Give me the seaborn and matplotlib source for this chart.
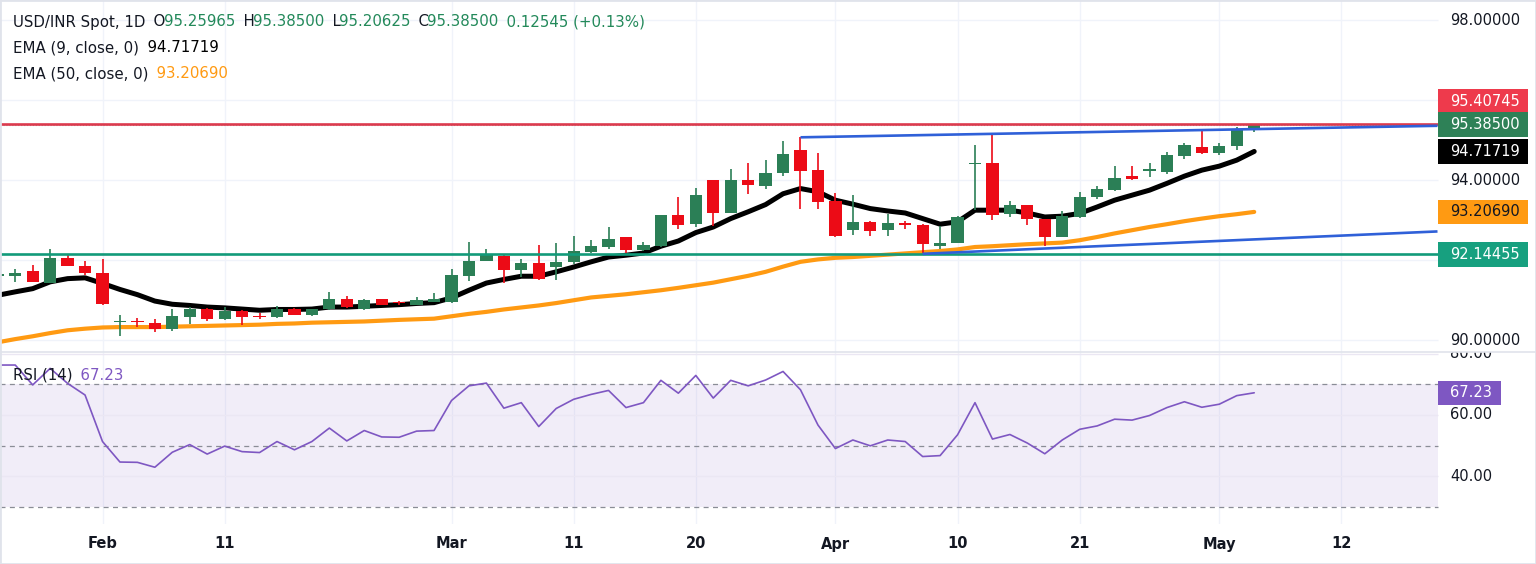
import numpy as np
import pandas as pd
import matplotlib
matplotlib.use('Agg')
import matplotlib.pyplot as plt
import matplotlib.transforms as mtrans
from matplotlib.patches import Rectangle
from matplotlib.lines import Line2D
import seaborn as sns

# ---- data (USD/INR spot, daily) ----
dates = pd.bdate_range('2026-01-23', '2026-05-05')

opens = [91.60, 91.61, 91.72, 91.44, 92.06, 91.86,
         91.68, 90.45, 90.47, 90.42, 90.27, 90.58, 90.77, 90.53, 90.73, 90.59,
         90.57, 90.78, 90.64, 90.77, 91.03, 90.77, 91.03, 90.94, 90.89, 90.96,
         90.96, 91.61, 91.98, 92.11, 91.75, 91.94, 91.83, 91.96, 92.20, 92.33,
         92.57, 92.25, 92.35, 93.14, 92.90, 94.00, 93.19, 94.00, 93.86, 94.18,
         94.75, 94.25,
         93.47, 92.75, 92.96, 92.75, 92.92, 92.89, 92.36, 92.43, 94.40, 94.43,
         93.15, 93.37, 93.02, 92.58, 93.08, 93.58, 93.75, 94.10, 94.24, 94.21,
         94.60, 94.83,
         94.69, 94.85, 95.25965]
highs = [91.68, 91.79, 91.875, 92.29, 92.15, 91.98,
         92.02, 90.63, 90.55, 90.52, 90.79, 90.83, 90.80, 90.82, 90.75, 90.67,
         90.85, 90.80, 90.79, 91.21, 91.11, 91.02, 91.03, 90.98, 91.08, 91.17,
         91.77, 92.46, 92.29, 92.13, 92.02, 92.37, 92.44, 92.60, 92.50, 92.83,
         92.58, 92.46, 93.14, 93.57, 93.81, 94.00, 94.275, 94.43, 94.50, 94.975,
         95.08, 94.67,
         93.67, 93.625, 92.97, 93.15, 92.98, 92.90, 92.85, 93.10, 94.875, 95.125,
         93.47, 93.38, 93.03, 93.22, 93.71, 93.85, 94.35, 94.35, 94.43, 94.71,
         94.94, 95.29,
         94.92, 95.33, 95.385]
lows = [91.57, 91.46, 91.45, 91.43, 91.85, 91.64,
        90.89, 90.10, 90.33, 90.20, 90.22, 90.40, 90.48, 90.50, 90.37, 90.52,
        90.56, 90.62, 90.61, 90.76, 90.80, 90.75, 90.87, 90.88, 90.87, 90.95,
        90.93, 91.48, 91.97, 91.42, 91.58, 91.50, 91.50, 91.90, 92.18, 92.29,
        92.17, 92.23, 92.33, 92.79, 92.83, 92.85, 93.17, 93.65, 93.78, 94.10,
        93.27, 93.27,
        92.58, 92.625, 92.60, 92.60, 92.77, 92.18, 92.27, 92.42, 93.25, 93.00,
        93.07, 92.875, 92.35, 92.57, 93.05, 93.53, 93.74, 94.00, 94.07, 94.15,
        94.52, 94.65,
        94.62, 94.75, 95.20625]
closes = [91.66, 91.69, 91.46, 92.06, 91.86, 91.68,
          90.90, 90.47, 90.45, 90.27, 90.60, 90.77, 90.52, 90.725, 90.58, 90.58,
          90.78, 90.64, 90.77, 91.03, 90.82, 91.00, 90.89, 90.92, 91.00, 91.02,
          91.62, 91.98, 92.12, 91.75, 91.92, 91.52, 91.96, 92.22, 92.36, 92.52,
          92.25, 92.375, 93.12, 92.875, 93.64, 93.19, 94.00, 93.875, 94.18, 94.65,
          94.23, 93.46,
          92.60, 92.96, 92.73, 92.93, 92.89, 92.40, 92.44, 93.08, 94.43, 93.14,
          93.37, 93.02, 92.58, 93.10, 93.58, 93.77, 94.06, 94.02, 94.26, 94.62,
          94.89, 94.69,
          94.86, 95.25, 95.385]

ema9 = [91.125, 91.21, 91.29, 91.46, 91.54, 91.56,
        91.42, 91.27, 91.14, 90.98, 90.90, 90.87, 90.83, 90.81, 90.78, 90.75,
        90.77, 90.77, 90.78, 90.83, 90.83, 90.85, 90.87, 90.89, 90.92, 90.94,
        91.06, 91.25, 91.43, 91.52, 91.60, 91.60, 91.71, 91.83, 91.96, 92.08,
        92.125, 92.18, 92.35, 92.48, 92.69, 92.83, 93.04, 93.21, 93.39, 93.66,
        93.79, 93.71,
        93.50, 93.40, 93.29, 93.23, 93.18, 93.04, 92.90, 92.96, 93.25, 93.25,
        93.25, 93.18, 93.08, 93.10, 93.17, 93.33, 93.50, 93.625, 93.75, 93.92,
        94.10, 94.25,
        94.35, 94.50, 94.71719]
ema50 = [89.95, 90.03, 90.10, 90.18, 90.25, 90.29,
         90.32, 90.33, 90.33, 90.33, 90.34, 90.35, 90.36, 90.37, 90.38, 90.39,
         90.41, 90.42, 90.44, 90.45, 90.46, 90.47, 90.49, 90.51, 90.525, 90.54,
         90.60, 90.66, 90.71, 90.77, 90.82, 90.87, 90.93, 91.00, 91.07, 91.11,
         91.15, 91.20, 91.25, 91.31, 91.375, 91.44, 91.525, 91.61, 91.71, 91.84,
         91.96, 92.02,
         92.06, 92.08, 92.11, 92.14, 92.17, 92.20, 92.23, 92.27, 92.33, 92.35,
         92.375, 92.40, 92.42, 92.44, 92.50, 92.58, 92.67, 92.75, 92.83, 92.90,
         92.975, 93.04,
         93.10, 93.15, 93.2069]
rsi = [76.3, 76.3, 69.8, 75.2, 70.3, 66.5,
       51.3, 44.6, 44.5, 42.9, 47.8, 50.3, 47.2, 49.8, 48.0, 47.7,
       51.3, 48.6, 51.3, 55.7, 51.5, 54.9, 52.8, 52.7, 54.7, 54.9,
       64.7, 69.5, 70.4, 62.2, 64.0, 56.2, 62.1, 65.1, 66.7, 68.0,
       62.4, 64.0, 71.3, 67.1, 72.9, 65.5, 71.3, 69.5, 71.4, 74.2,
       68.2, 56.7,
       49.0, 51.8, 49.9, 51.8, 51.3, 46.4, 46.7, 53.5, 64.0, 52.1,
       53.6, 50.8, 47.3, 51.8, 55.3, 56.4, 58.6, 58.3, 59.8, 62.4,
       64.3, 62.5,
       63.5, 66.3, 67.23]

resistance = 95.40745
support = 92.14455
upper_trend = [('2026-03-30', 95.07), ('2026-05-05', 95.275)]
lower_trend = [('2026-04-08', 92.16), ('2026-05-05', 92.52)]

tick_dates = ['2026-02-02', '2026-02-11', '2026-03-02', '2026-03-11', '2026-03-20',
              '2026-04-01', '2026-04-10', '2026-04-21', '2026-05-01', '2026-05-12']
tick_labels = ['Feb', '11', 'Mar', '11', '20', 'Apr', '10', '21', 'May', '12']
price_ticks = [90, 94, 98]
rsi_ticks = [40, 60, 80]

# ---- layout (pixels of the 1536x564 picture) ----
W, H = 1536, 564
BAR_PX = 17.45
FEB2_PX = 102.5
SCALE_PX = 1437.5
DARK = '#131722'
GREEN = '#2b7f56'
RED = '#ec0b16'
PURPLE = '#7e57c2'

start = dates[0].strftime('%Y-%m-%d')
xs = np.busday_count(start, dates.strftime('%Y-%m-%d').tolist())
tick_pos = np.busday_count(start, tick_dates)
i_feb2 = np.busday_count(start, '2026-02-02')
x_lo = i_feb2 - FEB2_PX / BAR_PX
x_hi = i_feb2 + (W - FEB2_PX) / BAR_PX
x_end = i_feb2 + (SCALE_PX - FEB2_PX) / BAR_PX

sns.set_theme(style='white')
plt.rcParams['font.family'] = ['DejaVu Sans']

fig = plt.figure(figsize=(W / 100, H / 100), dpi=100)
fig.patch.set_facecolor('white')
ax_p = fig.add_axes([0, 1 - 351.5 / H, 1, 351.5 / H])
ax_r = fig.add_axes([0, 1 - 524 / H, 1, 172 / H])

ax_p.set_xlim(x_lo, x_hi)
ax_p.set_ylim(89.72, 98.5)
ax_r.set_xlim(x_lo, x_hi)
ax_r.set_ylim(24.35, 80.56)
for ax in (ax_p, ax_r):
    for s in ax.spines.values():
        s.set_visible(False)
    ax.set_yticks([])
    ax.set_facecolor('none')

# grids
ax_p.hlines([90, 92, 94, 96, 98], x_lo, x_end, color='#f0f3fa', lw=1, zorder=0)
ax_p.vlines(tick_pos, 89.72, 98.5, color='#f0f3fa', lw=1, zorder=0)
ax_r.vlines(tick_pos, 24.35, 80.56, color='#f0f3fa', lw=1, zorder=0)

# candles
o, h, l, c = map(np.asarray, (opens, highs, lows, closes))
cols = np.where(c >= o, GREEN, RED)
ax_p.vlines(xs, l, h, colors=cols, lw=1.2, zorder=3)
body = np.maximum(np.abs(c - o), 0.035)
ax_p.bar(xs, body, bottom=np.minimum(o, c), width=0.7, color=cols, lw=0, zorder=3)

# moving averages
sns.lineplot(x=xs, y=ema50, ax=ax_p, color='#ff9a12', linewidth=3.0, zorder=2, legend=False)
sns.lineplot(x=xs, y=ema9, ax=ax_p, color='black', linewidth=3.6, zorder=2, legend=False)

# drawings
ax_p.hlines(closes[-1], x_lo, x_end, color=GREEN, lw=0.8, ls=':', alpha=0.5, zorder=1)
ax_p.hlines(resistance, x_lo, x_end, color='#dc3a4e', lw=1.9, zorder=4)
ax_p.hlines(support, x_lo, x_end, color='#129a7a', lw=1.9, zorder=4)
for (d0, p0), (d1, p1) in (upper_trend, lower_trend):
    i0, i1 = np.busday_count(start, [d0, d1])
    slope = (p1 - p0) / (i1 - i0)
    ax_p.plot([i0, x_end], [p0, p0 + slope * (x_end - i0)], color='#2f60d8', lw=1.9,
              zorder=4, solid_capstyle='butt')

# RSI pane
ax_r.fill_between([x_lo, x_end], 30, 70, color=PURPLE, alpha=0.1, lw=0, zorder=0)
ax_r.hlines([40, 60, 80], x_lo, x_end, color='#ebe7f3', lw=1, zorder=0)
ax_r.hlines([70, 50, 30], x_lo, x_end, colors='#8a8d96', linestyles=(0, (4, 3.5)), lw=0.9, zorder=1)
sns.lineplot(x=xs, y=rsi, ax=ax_r, color=PURPLE, linewidth=1.2, zorder=3, legend=False)

# date axis
ax_r.set_xticks(tick_pos)
ax_r.set_xticklabels(tick_labels)
ax_r.tick_params(axis='x', length=0, pad=9, labelsize=10.5, labelcolor=DARK)
for lbl in ax_r.get_xticklabels():
    lbl.set_fontweight('bold')
ax_p.set_xticks([])

# price scale
def scale_text(ax, value, text, color=DARK):
    tr = mtrans.blended_transform_factory(ax.transAxes, ax.transData)
    ax.text(1450 / W, value, text, transform=tr, va='center', ha='left', fontsize=10.5,
            color=color, clip_on=True, zorder=5)


def tag(ax, value, text, fc, tc, width_px, dy_px=0):
    y0, y1 = ax.get_ylim()
    ppu = ax.get_position().height * H / (y1 - y0)
    yc = value + dy_px / ppu
    hh = 24.5 / ppu
    tr = mtrans.blended_transform_factory(ax.transAxes, ax.transData)
    ax.add_patch(Rectangle((1438 / W, yc - hh / 2), width_px / W, hh, transform=tr,
                           fc=fc, ec='none', zorder=6, clip_on=False))
    ax.text(1450 / W, yc, text, transform=tr, va='center', ha='left', fontsize=10.5,
            color=tc, zorder=7)


for v in price_ticks:
    scale_text(ax_p, v, f'{v:.5f}')
for v in rsi_ticks:
    scale_text(ax_r, v, f'{v:.2f}')

tag(ax_p, resistance, f'{resistance:.5f}', '#ee3a4c', 'white', 90, dy_px=22.7)
tag(ax_p, closes[-1], f'{closes[-1]:.5f}', '#2e8157', 'white', 90)
tag(ax_p, ema9[-1], f'{ema9[-1]:.5f}', 'black', 'white', 90)
tag(ax_p, ema50[-1], f'{ema50[-1]:.5f}', '#ff9a12', DARK, 90)
tag(ax_p, support, f'{support:.5f}', '#17a07f', 'white', 90)
tag(ax_r, rsi[-1], f'{rsi[-1]:.2f}', PURPLE, 'white', 63)


# legends
def legend_line(x_px, y_px, parts, size=10.8):
    t = fig.text(x_px / W, 1 - y_px / H, parts[0][0], color=parts[0][1], fontsize=size,
                 va='center', ha='left')
    for s, col in parts[1:]:
        t = ax_p.annotate(s, xy=(1, 0), xycoords=t, xytext=(-1.5, 0),
                          textcoords='offset pixels', va='bottom', ha='left',
                          fontsize=size, color=col)


VAL = '#23895a'
legend_line(13, 22, [('USD/INR Spot, 1D', DARK), ('  O', DARK), (f'{opens[-1]:.5f}', VAL),
                     ('  H', DARK), (f'{highs[-1]:.5f}', VAL),
                     ('  L', DARK), (f'{lows[-1]:.5f}', VAL),
                     ('  C', DARK), (f'{closes[-1]:.5f}', VAL),
                     ('  0.12545 (+0.13%)', VAL)])
legend_line(13, 48, [('EMA (9, close, 0)', DARK), ('  ' + f'{ema9[-1]:.5f}', 'black')])
legend_line(13, 74, [('EMA (50, close, 0)', DARK), ('  ' + f'{ema50[-1]:.5f}', '#ff9a12')])
legend_line(13, 375, [('RSI (14)', DARK), ('  ' + f'{rsi[-1]:.2f}', PURPLE)])

# pane separator and frame
fig.add_artist(Line2D([0, 1], [1 - 351.8 / H] * 2, transform=fig.transFigure,
                      color='#e0e3eb', lw=1.2))
fig.add_artist(Rectangle((0, 0), 1, 1, transform=fig.transFigure, fill=False,
                         ec='#e0e3eb', lw=2))

fig.savefig('out.png', dpi=100, facecolor='white')
